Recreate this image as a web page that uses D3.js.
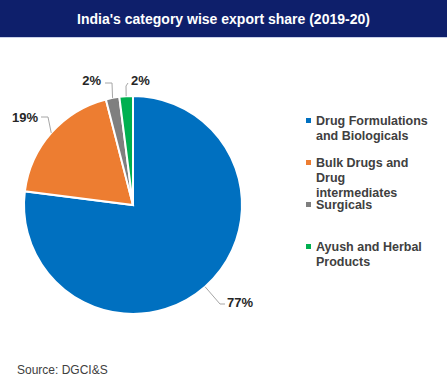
<!DOCTYPE html>
<html><head><meta charset="utf-8">
<script src="https://cdn.jsdelivr.net/npm/d3@7"></script>
<style>body{margin:0;background:#fff}svg{display:block}</style>
</head><body>
<svg id="chart" width="447" height="391"></svg>
<script>
const title = "India's category wise export share (2019-20)";
const categories = ["Drug Formulations and Biologicals", "Bulk Drugs and Drug intermediates", "Surgicals", "Ayush and Herbal Products"];
const legendLines = [["Drug Formulations", "and Biologicals"], ["Bulk Drugs and", "Drug", "intermediates"], ["Surgicals"], ["Ayush and Herbal", "Products"]];
const values = [77, 19, 2, 2];
const valueLabels = ["77%", "19%", "2%", "2%"];
const colors = ["#0070c0", "#ed7d31", "#7f7f7f", "#00b050"];
const source = "Source: DGCI&S";

const svg = d3.select("#chart");
const font = "'Liberation Sans', Arial, sans-serif";

svg.append("rect").attr("x",0).attr("y",0).attr("width",447).attr("height",37).attr("fill","#0e1f6b");
svg.append("rect").attr("x",0).attr("y",37).attr("width",447).attr("height",1).attr("fill","#c9d0e8");
svg.append("text").attr("x",223.5).attr("y",24).attr("text-anchor","middle")
  .attr("font-family",font).attr("font-weight","bold").attr("font-size",14).attr("fill","#fff").text(title);

const cx = 133, cy = 205, r = 109;
const pie = d3.pie().sort(null).value(d => d)(values);
const arc = d3.arc().innerRadius(0).outerRadius(r);
const g = svg.append("g").attr("transform", `translate(${cx},${cy})`);
g.selectAll("path").data(pie).join("path")
  .attr("d", arc).attr("fill", (d,i) => colors[i])
  .attr("stroke", "#fff").attr("stroke-width", 2);

// label placement: [x, baseline y, anchor] relative to centre
const labelPos = [[94, 102, "start"], [-95, -83, "end"], [-32, -120, "end"], [-2, -120, "start"]];
pie.forEach((d,i) => {
  const a = (d.startAngle + d.endAngle)/2;
  const ex = Math.sin(a)*r, ey = -Math.cos(a)*r;
  const [lx, ly, anchor] = labelPos[i];
  const pts = [[ex, ey]];
  if (i === 0) { pts.push([lx-7, ly-3], [lx-2, ly-3]); }
  else if (i === 1) { pts.push([lx+10, ly-5], [lx+3, ly-5]); }
  else if (i === 2) { pts.push([lx+11, ly-2], [lx+4, ly-2]); }
  else { pts.push([lx-5, ly+1], [lx-3, ly-2]); }
  g.append("polyline").attr("points", pts.map(p=>p.join(",")).join(" "))
    .attr("fill","none").attr("stroke","#a6a6a6").attr("stroke-width",1);
  g.append("text").attr("x", lx).attr("y", ly).attr("text-anchor", anchor)
    .attr("font-family",font).attr("font-weight","bold").attr("font-size",13).attr("fill","#262626")
    .text(valueLabels[i]);
});

const legY = [125, 167, 209, 251];
const lg = svg.append("g");
categories.forEach((c,i) => {
  lg.append("rect").attr("x",306).attr("y",legY[i]-7).attr("width",5).attr("height",5).attr("fill",colors[i]);
  legendLines[i].forEach((t,j) => {
    lg.append("text").attr("x",316).attr("y",legY[i] + j*15)
      .attr("font-family",font).attr("font-weight","bold").attr("font-size",12.5).attr("fill","#404040").text(t);
  });
});

svg.append("text").attr("x",17).attr("y",374).attr("font-family",font).attr("font-size",12).attr("fill","#404040").text(source);
</script>
</body></html>
